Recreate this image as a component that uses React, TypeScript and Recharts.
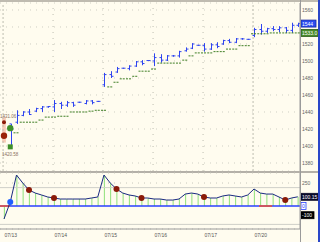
import React from "react";
import {
  ComposedChart,
  Bar,
  Line,
  Scatter,
  XAxis,
  YAxis,
  CartesianGrid,
  ReferenceLine,
  ReferenceArea,
} from "recharts";

// session dates, 8 bars per session
const dates = ["07/13", "07/14", "07/15", "07/16", "07/17", "07/20"];
const weekStarts = ["07/13", "07/20"];
const barsPerDay = 8;

// OHLC per bar (slot 0 is the signal bar, no prices drawn)
const highs = [null, 1426, 1442, 1441, 1443.5, 1445, 1447, 1447, 1454, 1452, 1453, 1452, 1452, 1454, 1454, 1453, 1486, 1488, 1493, 1492, 1495, 1500, 1501, 1501, 1509, 1508, 1507, 1507, 1512, 1516, 1521, 1519, 1521, 1521, 1522, 1525, 1526, 1527, 1527, 1526, 1539, 1543.5, 1539, 1541, 1541, 1540, 1545, 1545];
const lows = [null, 1399, 1426, 1435, 1436.5, 1440, 1440, 1445, 1440, 1443.5, 1446, 1446, 1451, 1449, 1449, 1452, 1469.5, 1480, 1486, 1491, 1489, 1493, 1495, 1500, 1494, 1498, 1500, 1505, 1504, 1511, 1514, 1518, 1511, 1513, 1515, 1519, 1521, 1521, 1525, 1525, 1528, 1531, 1533, 1535, 1534, 1533, 1533, 1540];
const opens = [null, 1426, 1428, 1436, 1440, 1441, 1444, 1446, 1446, 1450, 1448, 1451, 1451.5, 1450, 1453, 1452.5, 1472, 1484, 1487, 1491.5, 1491, 1494, 1499, 1500.5, 1500, 1504, 1501, 1506, 1506, 1512, 1515, 1518.5, 1518, 1514, 1519, 1520, 1524, 1522, 1526, 1525.5, 1530, 1537, 1535, 1538, 1537, 1539, 1536, 1542];
const closes = [null, 1420, 1436, 1440, 1437, 1444, 1446, 1446.5, 1450, 1448, 1451, 1448, 1451.5, 1453, 1451, 1452.5, 1484, 1482, 1491, 1491.5, 1494, 1499, 1497, 1500.5, 1504, 1501, 1506, 1506, 1511, 1514, 1520, 1518.5, 1514, 1519, 1517, 1524, 1522, 1526, 1526, 1525.5, 1537, 1535, 1538, 1537, 1539, 1536, 1542, 1544];
// trailing stop level
const stops = [null, null, 1415.5, 1428, 1428, 1428, 1430.5, 1434, 1434, 1435, 1435, 1440, 1440, 1440, 1441, 1442, 1442, 1469.5, 1475, 1479, 1479, 1482, 1488, 1488, 1490.5, 1497.5, 1497.5, 1497.5, 1497.5, 1501, 1506, 1509.5, 1509.5, 1509.5, 1511, 1511, 1514, 1514, 1518, 1518, 1532, 1532, 1532, 1533, 1533, 1533, 1533, 1533];
// oscillator (lower pane)
const osc = [-141, 43, 337, 250, 174, 141, 120, 98, 87, 76, 76, 76, 76, 76, 87, 98, 337, 250, 185, 141, 120, 109, 87, 87, 76, 76, 65, 65, 76, 130, 141, 130, 98, 87, 87, 109, 120, 109, 98, 120, 185, 141, 130, 130, 98, 65, 87, 100.15];
const oscDotSlots = [4, 8, 18, 22, 32, 45];
const oscCrossSlot = 1;
const zeroRedRanges = [[-0.64, 0.95], [40.8, 42.9]];

const priceTicks = [1380, 1400, 1420, 1440, 1460, 1480, 1500, 1520, 1540, 1560];
const oscTicks = [250];

// signal at the start
const signalSlot = 0;
const signalRange = [1404, 1434];
const signalDots = [1428, 1412];
const signalTop = { v: 1435, text: "1431.06" };
const entrySlot = 1;
const entryDot = 1421;
const entrySquare = 1399;
const entryLow = { v: 1390.5, text: "1420.58" };

const lastPrice = "1544";
const lastStop = "1533.0";
const oscLast = "100.15";

const rows = highs.map((h, i) => ({
  i,
  high: h,
  low: lows[i],
  open: opens[i],
  close: closes[i],
  range: h == null ? null : [lows[i], h],
  stop: stops[i],
  osc: osc[i],
}));

const stopPts = rows.filter((r) => r.stop != null);
const oscDots = oscDotSlots.map((s) => ({ i: s, osc: osc[s] }));
const crossDot = [{ i: oscCrossSlot, osc: osc[oscCrossSlot] }];
const dayStarts = dates.map((_, k) => k * barsPerDay);

const FONT = "'Liberation Sans', Arial, sans-serif";

const OhlcShape = (props: any) => {
  const { x, width, payload } = props;
  let { y, height } = props;
  if (payload.high == null) return null;
  if (height < 0) {
    y += height;
    height = -height;
  }
  const cx = Math.round(x + width / 2) + 0.5;
  const span = payload.high - payload.low;
  const py = (v: number) => (span === 0 ? y : y + ((payload.high - v) / span) * height);
  return (
    <g stroke="#2f45f0" strokeWidth={1}>
      <line x1={cx} x2={cx} y1={y} y2={y + Math.max(height, 1)} />
      <line x1={cx - 2} x2={cx} y1={py(payload.open)} y2={py(payload.open)} />
      <line x1={cx} x2={cx + 2} y1={py(payload.close)} y2={py(payload.close)} />
    </g>
  );
};

const StopDash = ({ cx, cy }: any) => (
  <line x1={cx - 3} x2={cx + 3} y1={cy} y2={cy} stroke="#3f7f25" strokeDasharray="2 1" />
);

// price labels hidden where the last-price tag covers them
const PriceTick = ({ x, y, payload }: any) => {
  if (Math.abs(payload.value - Number(lastPrice)) < 8) return null;
  return (
    <text x={x} y={y + 2} fontSize={5} fill="#666" fontFamily={FONT}>
      {payload.value}
    </text>
  );
};

const Tag = ({ viewBox, text, bg, fg, border, w }: any) => {
  if (!viewBox) return null;
  const x = viewBox.x + viewBox.width + 1;
  const y = viewBox.y;
  return (
    <g>
      <rect x={x} y={y - 3.5} width={w} height={7} fill={bg} stroke={border} strokeWidth={0.8} />
      <text x={x + 1} y={y + 2} fontSize={5} fill={fg} fontFamily={FONT}>
        {text}
      </text>
    </g>
  );
};

const DateTick = ({ x, y, payload }: any) => {
  const label = dates[Math.round(payload.value / barsPerDay)];
  return (
    <text x={x + 0.5} y={y + 7.5} fontSize={5} fill="#555" fontFamily={FONT}>
      {label}
    </text>
  );
};

export default function App() {
  return (
    <div
      style={{
        position: "absolute",
        left: 0,
        top: 0,
        width: 320,
        height: 242,
        background: "#fffcef",
        overflow: "hidden",
        fontFamily: FONT,
      }}
    >
      <div style={{ position: "absolute", left: 0, top: 0, width: 320, height: 2, background: "#bfbbb0" }} />

      {/* price pane */}
      <div style={{ position: "absolute", left: 0, top: 2 }}>
        <ComposedChart width={320} height={169} data={rows} margin={{ top: 1, right: 0, bottom: 0, left: 0 }}>
          <CartesianGrid vertical={false} stroke="#cfcfc4" strokeDasharray="1 5" />
          <XAxis dataKey="i" type="number" domain={[-0.64, 47.36]} hide allowDataOverflow />
          <YAxis
            orientation="right"
            width={20}
            domain={[1370.6, 1568.2]}
            ticks={priceTicks}
            interval={0}
            allowDataOverflow
            tickSize={0}
            tickMargin={2}
            tickLine={false}
            axisLine={{ stroke: "#9a9a9a" }}
            tick={<PriceTick />}
          />
          {dayStarts.map((d, k) => (
            <ReferenceLine
              key={d}
              x={d - 0.15}
              stroke="#bdbdb0"
              strokeDasharray={weekStarts.includes(dates[k]) ? "2 2" : "1 5"}
            />
          ))}
          <ReferenceArea
            x1={signalSlot - 0.3}
            x2={signalSlot + 0.3}
            y1={signalRange[0]}
            y2={signalRange[1]}
            fill="#f2a890"
            fillOpacity={0.6}
            stroke="none"
          />
          <Scatter data={stopPts} dataKey="stop" shape={StopDash} isAnimationActive={false} />
          <Bar dataKey="range" barSize={5} shape={OhlcShape} isAnimationActive={false} />
          <Scatter
            data={[{ i: signalSlot, v: signalDots[0] }]}
            dataKey="v"
            shape={({ cx, cy }: any) => <circle cx={cx} cy={cy} r={2} fill="#8a1a08" />}
            isAnimationActive={false}
          />
          <Scatter
            data={[{ i: signalSlot, v: signalDots[1] }]}
            dataKey="v"
            shape={({ cx, cy }: any) => <circle cx={cx} cy={cy} r={3.2} fill="#9a2208" />}
            isAnimationActive={false}
          />
          <Scatter
            data={[{ i: entrySlot, v: entryDot }]}
            dataKey="v"
            shape={({ cx, cy }: any) => <circle cx={cx} cy={cy} r={3.2} fill="#3f8f2a" />}
            isAnimationActive={false}
          />
          <Scatter
            data={[{ i: entrySlot, v: entrySquare }]}
            dataKey="v"
            shape={({ cx, cy }: any) => <rect x={cx - 2.5} y={cy - 2.5} width={5} height={5} fill="#3f8f2a" />}
            isAnimationActive={false}
          />
          <Scatter
            data={[{ i: signalSlot, v: signalTop.v }]}
            dataKey="v"
            shape={({ cx, cy }: any) => (
              <text x={cx - 4} y={cy + 2} fontSize={4.5} fill="#8a7060" fontFamily={FONT}>
                {signalTop.text}
              </text>
            )}
            isAnimationActive={false}
          />
          <Scatter
            data={[{ i: entrySlot, v: entryLow.v }]}
            dataKey="v"
            shape={({ cx, cy }: any) => (
              <text x={cx} y={cy + 2} fontSize={4.5} fill="#8a7060" textAnchor="middle" fontFamily={FONT}>
                {entryLow.text}
              </text>
            )}
            isAnimationActive={false}
          />
          <ReferenceLine
            y={Number(lastPrice)}
            stroke="none"
            label={<Tag text={lastPrice} bg="#2a4cf0" fg="#ffffff" border="#1a2aa0" w={15} />}
          />
          <ReferenceLine
            y={Number(lastStop)}
            stroke="none"
            label={<Tag text={lastStop} bg="#4a8a2a" fg="#ffffff" border="#2a5a18" w={17} />}
          />
        </ComposedChart>
      </div>

      <div style={{ position: "absolute", left: 0, top: 171, width: 320, height: 2, background: "#b4b0a8" }} />

      {/* oscillator pane */}
      <div style={{ position: "absolute", left: 0, top: 172 }}>
        <ComposedChart width={320} height={70} data={rows} margin={{ top: 1, right: 0, bottom: 0, left: 0 }}>
          <CartesianGrid vertical={false} stroke="#c8c8bc" strokeDasharray="1 5" />
          <XAxis
            dataKey="i"
            type="number"
            domain={[-0.64, 47.36]}
            allowDataOverflow
            ticks={dayStarts}
            interval={0}
            height={13}
            tickSize={0}
            tickMargin={0}
            tickLine={false}
            axisLine={{ stroke: "#9a9a9a" }}
            tick={<DateTick />}
          />
          <YAxis
            orientation="right"
            width={20}
            domain={[-250, 359]}
            ticks={oscTicks}
            interval={0}
            allowDataOverflow
            tickSize={0}
            tickMargin={2}
            tickLine={false}
            axisLine={{ stroke: "#9a9a9a" }}
            tick={{ fontSize: 5, fill: "#666", fontFamily: FONT }}
          />
          <ReferenceLine y={200} stroke="#cfcfc8" />
          <ReferenceLine y={-200} stroke="#cfcfc8" />
          <Bar dataKey="osc" barSize={1} fill="#8fe07a" isAnimationActive={false} />
          <ReferenceLine y={0} stroke="#2a40ff" strokeWidth={1.5} />
          {zeroRedRanges.map(([a, b]) => (
            <ReferenceLine
              key={a}
              segment={[
                { x: a, y: 0 },
                { x: b, y: 0 },
              ]}
              stroke="#f05030"
              strokeWidth={1.5}
            />
          ))}
          <Line
            dataKey="osc"
            type="linear"
            stroke="#1a2a80"
            strokeWidth={1}
            dot={false}
            isAnimationActive={false}
          />
          <Scatter
            data={oscDots}
            dataKey="osc"
            shape={({ cx, cy }: any) => <circle cx={cx} cy={cy} r={3} fill="#8a1a08" />}
            isAnimationActive={false}
          />
          <Scatter
            data={crossDot}
            dataKey="osc"
            shape={({ cx, cy }: any) => <circle cx={cx} cy={cy} r={3} fill="#1f5fff" />}
            isAnimationActive={false}
          />
          <ReferenceLine
            y={Number(oscLast)}
            stroke="none"
            label={<Tag text={oscLast} bg="#0a0a2a" fg="#ffffff" border="#0a0a2a" w={17} />}
          />
          <ReferenceLine y={0} stroke="none" label={<Tag text="0" bg="#ffffff" fg="#2a40ff" border="#2a40ff" w={5} />} />
          <ReferenceLine y={-100} stroke="none" label={<Tag text="-100" bg="#000000" fg="#ffffff" border="#000000" w={13} />} />
        </ComposedChart>
      </div>

      <div style={{ position: "absolute", left: 300, top: 0, width: 1, height: 242, background: "#9a9a9a" }} />
      <div style={{ position: "absolute", left: 318, top: 0, width: 2, height: 242, background: "#2a46c8" }} />
    </div>
  );
}
